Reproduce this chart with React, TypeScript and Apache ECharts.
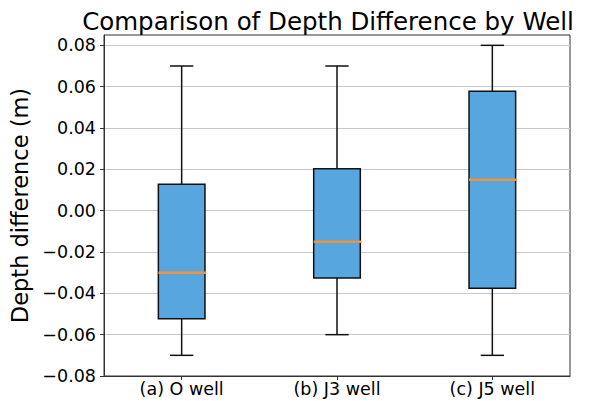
import React, { useEffect, useRef } from "react";
import * as echarts from "echarts";

const categories = ["(a) O well", "(b) J3 well", "(c) J5 well"];
const whiskerLow = [-0.07, -0.06, -0.07];
const q1 = [-0.0523, -0.0326, -0.0375];
const median = [-0.03, -0.015, 0.015];
const q3 = [0.0128, 0.0203, 0.0578];
const whiskerHigh = [0.07, 0.07, 0.08];
const yTicks = [-0.08, -0.06, -0.04, -0.02, 0.0, 0.02, 0.04, 0.06, 0.08];

const FONT = "DejaVu Sans";

export default function App() {
  const ref = useRef<HTMLDivElement>(null);
  useEffect(() => {
    if (!ref.current) return;
    const chart = echarts.init(ref.current, null, { renderer: "svg" });
    const data = categories.map((_, i) => [i, whiskerLow[i], q1[i], median[i], q3[i], whiskerHigh[i]]);
    chart.setOption({
      animation: false,
      backgroundColor: "#ffffff",
      title: {
        text: "Comparison of Depth Difference by Well",
        left: 323,
        top: 4,
        textAlign: "center",
        textStyle: { fontFamily: FONT, fontSize: 24.5, fontWeight: "normal", color: "#000" },
      },
      grid: {
        left: 104,
        right: 22,
        top: 35,
        bottom: 25,
        show: true,
        borderColor: "#333",
        borderWidth: 1,
        backgroundColor: "transparent",
      },
      xAxis: {
        type: "category",
        data: categories,
        boundaryGap: true,
        axisLine: { show: true, onZero: false, lineStyle: { color: "#333", width: 1 } },
        axisTick: { show: true, alignWithLabel: true, length: 4, lineStyle: { color: "#333" } },
        axisLabel: { fontFamily: FONT, fontSize: 17.5, color: "#000", margin: 4 },
        splitLine: { show: false },
      },
      yAxis: {
        type: "value",
        min: -0.08,
        max: 0.085,
        interval: 0.02,
        name: "Depth difference (m)",
        nameLocation: "middle",
        nameGap: 72,
        nameTextStyle: { fontFamily: FONT, fontSize: 22.5, color: "#000" },
        axisLine: { show: true, lineStyle: { color: "#333", width: 1 } },
        axisTick: {
          show: true,
          length: 4,
          lineStyle: { color: "#333" },
          customValues: yTicks,
        },
        axisLabel: {
          fontFamily: FONT,
          fontSize: 17.5,
          color: "#000",
          margin: 8,
          customValues: yTicks,
          formatter: (v: number) => v.toFixed(2).replace("-", "\u2212").replace("\u22120.00", "0.00"),
        },
        splitLine: { show: true, lineStyle: { color: "#c8c8c8", width: 1 } },
      },
      series: [
        {
          type: "custom",
          data,
          encode: { x: 0, y: [1, 2, 3, 4, 5] },
          renderItem: (params: any, api: any) => {
            const idx = api.value(0);
            const band = api.size([1, 0])[0];
            const boxW = band * 0.3;
            const capW = boxW / 2;
            const pLow = api.coord([idx, api.value(1)]);
            const pQ1 = api.coord([idx, api.value(2)]);
            const pMed = api.coord([idx, api.value(3)]);
            const pQ3 = api.coord([idx, api.value(4)]);
            const pHigh = api.coord([idx, api.value(5)]);
            const cx = pLow[0];
            const stroke = { stroke: "#111", lineWidth: 1.5 };
            return {
              type: "group",
              children: [
                { type: "line", shape: { x1: cx, y1: pQ1[1], x2: cx, y2: pLow[1] }, style: stroke },
                { type: "line", shape: { x1: cx, y1: pQ3[1], x2: cx, y2: pHigh[1] }, style: stroke },
                { type: "line", shape: { x1: cx - capW / 2, y1: pLow[1], x2: cx + capW / 2, y2: pLow[1] }, style: stroke },
                { type: "line", shape: { x1: cx - capW / 2, y1: pHigh[1], x2: cx + capW / 2, y2: pHigh[1] }, style: stroke },
                {
                  type: "rect",
                  shape: { x: cx - boxW / 2, y: pQ3[1], width: boxW, height: pQ1[1] - pQ3[1] },
                  style: { fill: "#58a6e0", stroke: "#111", lineWidth: 1.5 },
                },
                {
                  type: "line",
                  shape: { x1: cx - boxW / 2, y1: pMed[1], x2: cx + boxW / 2 + 1, y2: pMed[1] },
                  style: { stroke: "#f0923a", lineWidth: 2.5 },
                },
              ],
            };
          },
        },
      ],
    });
    return () => chart.dispose();
  }, []);
  return <div ref={ref} style={{ width: 592, height: 401, position: "absolute", left: 0, top: 0 }} />;
}
